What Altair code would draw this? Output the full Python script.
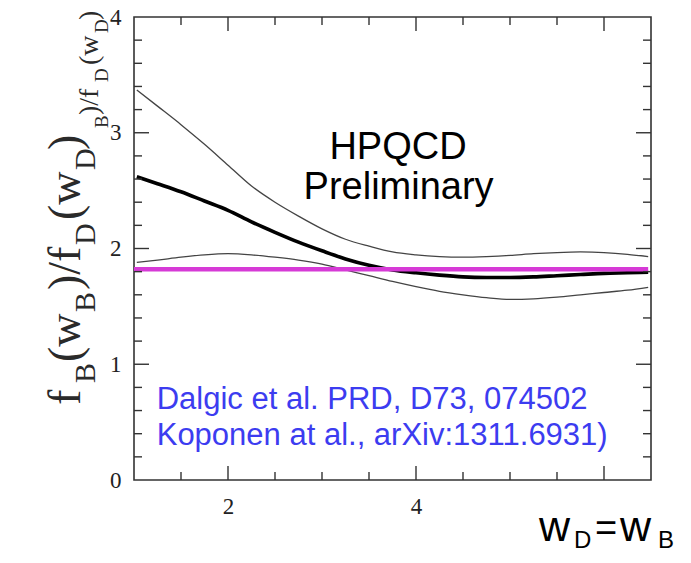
import altair as alt
import pandas as pd

# ---- data ----
x_vals = [1.03, 1.25, 1.5, 1.75, 2.0, 2.25, 2.5, 2.75, 3.0, 3.25, 3.5, 3.75,
          4.0, 4.25, 4.5, 4.75, 5.0, 5.25, 5.5, 5.75, 6.0, 6.25, 6.47]
upper = [3.37, 3.23, 3.07, 2.90, 2.72, 2.54, 2.40, 2.28, 2.17, 2.08, 2.02, 1.97,
         1.945, 1.93, 1.925, 1.93, 1.94, 1.955, 1.965, 1.97, 1.965, 1.95, 1.93]
center = [2.62, 2.56, 2.49, 2.41, 2.33, 2.23, 2.14, 2.055, 1.98, 1.91, 1.855, 1.815,
          1.79, 1.77, 1.755, 1.75, 1.75, 1.755, 1.765, 1.775, 1.785, 1.79, 1.795]
lower = [1.88, 1.90, 1.925, 1.945, 1.955, 1.945, 1.925, 1.90, 1.865, 1.815, 1.765, 1.715,
         1.67, 1.63, 1.60, 1.575, 1.56, 1.565, 1.58, 1.60, 1.62, 1.64, 1.665]
ref_x = [1.0, 6.47]
ref_y = [1.82, 1.82]

x_label_vals = [2, 4]
y_label_vals = [0, 1, 2, 3, 4]
x_major_ticks = [2, 4, 6]
x_minor_ticks = [1.5, 2.5, 3, 3.5, 4.5, 5, 5.5]
y_major_ticks = [1, 2, 3]
y_minor_ticks = [0.2, 0.4, 0.6, 0.8, 1.2, 1.4, 1.6, 1.8, 2.2, 2.4, 2.6, 2.8,
                 3.2, 3.4, 3.6, 3.8]

W, H = 517, 463
FRAME = "#333333"
SERIF = "Liberation Serif"
SANS = "Liberation Sans"

xs = alt.Scale(domain=[1, 6.5], nice=False, zero=False)
ys = alt.Scale(domain=[0, 4], nice=False, zero=False)
xaxis = alt.Axis(values=x_label_vals, ticks=False, domain=False, grid=False, title=None,
                 labelFont=SERIF, labelFontSize=23, labelColor="#222",
                 labelPadding=33, labelBaseline="alphabetic", labelFlush=False, format="d")
yaxis = alt.Axis(values=y_label_vals, ticks=False, domain=False, grid=False, title=None,
                 labelFont=SERIF, labelFontSize=23, labelColor="#222",
                 labelPadding=13, format="d")
X = alt.X("x:Q", scale=xs, axis=xaxis)
Y = alt.Y("y:Q", scale=ys, axis=yaxis)


def curve(ys_list, color, width):
    df = pd.DataFrame({"x": x_vals, "y": ys_list})
    return alt.Chart(df).mark_line(color=color, strokeWidth=width,
                                   interpolate="monotone").encode(x=X, y=Y)


def yticks(vals, length):
    df = pd.DataFrame({"y": vals})
    left = alt.Chart(df).mark_rule(color=FRAME, strokeWidth=1.4).encode(
        y=Y, x=alt.value(0), x2=alt.value(length))
    right = alt.Chart(df).mark_rule(color=FRAME, strokeWidth=1.4).encode(
        y=Y, x=alt.value(W - length), x2=alt.value(W))
    return left + right


def xticks(vals, length):
    df = pd.DataFrame({"x": vals})
    bottom = alt.Chart(df).mark_rule(color=FRAME, strokeWidth=1.4).encode(
        x=X, y=alt.value(H), y2=alt.value(H - length))
    top = alt.Chart(df).mark_rule(color=FRAME, strokeWidth=1.4).encode(
        x=X, y=alt.value(0), y2=alt.value(length))
    return bottom + top


def label(txt, x, y, size, font, color, angle=0, align="left", baseline="alphabetic"):
    return alt.Chart(pd.DataFrame({"t": [txt]})).mark_text(
        align=align, baseline=baseline, font=font, fontSize=size, color=color,
        angle=angle).encode(x=alt.value(x), y=alt.value(y), text="t:N")


ref_line = alt.Chart(pd.DataFrame({"x": ref_x, "y": ref_y})).mark_line(
    color="#d63ad6", strokeWidth=4.5).encode(x=X, y=Y)

layers = [
    curve(upper, "#444444", 1.3),
    curve(lower, "#444444", 1.3),
    curve(center, "#000000", 3.6),
    ref_line,
    yticks(y_major_ticks, 15),
    yticks(y_minor_ticks, 8),
    xticks(x_major_ticks, 14),
    xticks(x_minor_ticks, 8),
    label("HPQCD", 264, 141.5, 38, SANS, "#000", align="center"),
    label("Preliminary", 264.6, 182.3, 38, SANS, "#000", align="center"),
    label("Dalgic et al. PRD, D73, 074502", 22.7, 392.3, 31, SANS, "#3c3cf0"),
    label("Koponen at al., arXiv:1311.6931)", 22.7, 428, 31, SANS, "#3c3cf0"),
]

# y-axis title pieces (rotated, reading bottom to top)
TC = "#2a2a2a"
big = [("f", 388, False), ("B", 366, True), ("(w", 345, False), ("B", 295, True),
       (")/f", 273, False), ("D", 228, True), ("(w", 203, False), ("D", 153, True),
       (")", 133, False)]
for txt, yy, sub in big:
    layers.append(label(txt, -39 if sub else -54, yy, 30 if sub else 46, SERIF, TC, angle=270))
small = [("B", 111, True), (")/f", 98, False), ("D", 65, True), ("(w", 48, False),
         ("D", 16, True), (")", 3, False)]
for txt, yy, sub in small:
    layers.append(label(txt, -26 if sub else -36, yy, 19 if sub else 28, SERIF, TC, angle=270))

# bottom-right label w_D = w_B
layers += [
    label("w", 405, 524, 43, SANS, "#000"),
    label("D", 440, 531, 24, SANS, "#000"),
    label("=", 461, 524, 38, SANS, "#000"),
    label("w", 486, 524, 43, SANS, "#000"),
    label("B", 524, 531, 24, SANS, "#000"),
]

chart = alt.layer(*layers).properties(
    width=W, height=H,
    autosize=alt.AutoSizeParams(type="none"),
    padding={"left": 126, "top": 9, "right": 32, "bottom": 74},
).configure(background="white").configure_view(stroke=FRAME, strokeWidth=1.6)

chart.save("out.html", embed_options={"renderer": "svg", "actions": False})
